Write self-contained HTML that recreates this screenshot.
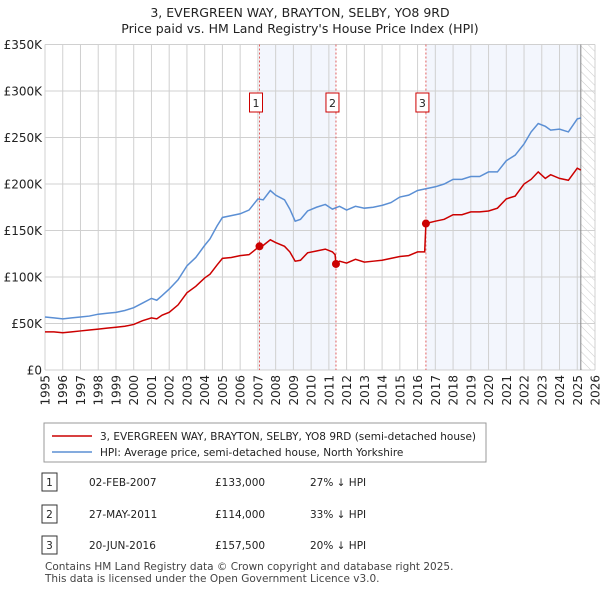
<!DOCTYPE html>
<html><head><meta charset="utf-8"><style>
body{margin:0;background:#fff;font-family:"DejaVu Sans","Liberation Sans",sans-serif;}
#wrap{position:relative;width:600px;height:590px;}
svg text{font-family:"DejaVu Sans","Liberation Sans",sans-serif;}
</style></head><body><div id="wrap">
<svg id="svg" width="600" height="590" xmlns="http://www.w3.org/2000/svg"></svg>
</div>
<script>
const years=[1995,1996,1997,1998,1999,2000,2001,2002,2003,2004,2005,2006,2007,2008,2009,2010,2011,2012,2013,2014,2015,2016,2017,2018,2019,2020,2021,2022,2023,2024,2025,2026];
const yTicks=[0,50,100,150,200,250,300,350];
const yTickLabels=["£0","£50K","£100K","£150K","£200K","£250K","£300K","£350K"];
const hpiT=[1995,1995.5,1996,1996.5,1997,1997.5,1998,1998.5,1999,1999.5,2000,2000.5,2001,2001.3,2001.6,2002,2002.5,2003,2003.5,2004,2004.3,2004.7,2005,2005.5,2006,2006.5,2007,2007.3,2007.7,2008,2008.5,2008.8,2009.1,2009.4,2009.8,2010.3,2010.8,2011.2,2011.6,2012,2012.5,2013,2013.5,2014,2014.5,2015,2015.5,2016,2016.5,2017,2017.5,2018,2018.5,2019,2019.5,2020,2020.5,2021,2021.5,2022,2022.4,2022.8,2023.2,2023.5,2024,2024.5,2025,2025.2];
const hpiV=[57,56,55,56,57,58,60,61,62,64,67,72,77,75,80,87,97,112,121,134,141,155,164,166,168,172,184,183,193,188,183,173,160,162,171,175,178,173,176,172,176,174,175,177,180,186,188,193,195,197,200,205,205,208,208,213,213,225,231,243,256,265,262,258,259,256,270,271];
const ppT=[1995,1995.5,1996,1996.5,1997,1997.5,1998,1998.5,1999,1999.5,2000,2000.5,2001,2001.3,2001.6,2002,2002.5,2003,2003.5,2004,2004.3,2004.7,2005,2005.5,2006,2006.5,2007.09,2007.3,2007.7,2008,2008.5,2008.8,2009.1,2009.4,2009.8,2010.3,2010.8,2011.2,2011.35,2011.4,2011.6,2012,2012.5,2013,2013.5,2014,2014.5,2015,2015.5,2016,2016.4,2016.47,2017,2017.5,2018,2018.5,2019,2019.5,2020,2020.5,2021,2021.5,2022,2022.4,2022.8,2023.2,2023.5,2024,2024.5,2025,2025.2];
const ppV=[41,41,40,41,42,43,44,45,46,47,49,53,56,55,59,62,70,83,90,99,103,113,120,121,123,124,133,134,140,137,133,127,117,118,126,128,130,127,124,114,117,115,119,116,117,118,120,122,123,127,127,157.5,160,162,167,167,170,170,171,174,184,187,200,205,213,206,210,206,204,217,215];
const saleDates=[2007.09,2011.4,2016.47];
const salePrices=[133,114,157.5];
const saleLabels=["1","2","3"];
const X0=45,X1=595,Y0=370,Y1=44.5;
const x=t=>X0+(t-1995)*(X1-X0)/31;
const y=v=>Y0-v*(Y0-Y1)/350;
const svg=document.getElementById('svg');
const NS="http://www.w3.org/2000/svg";
function mk(tag,at,parent){const e=document.createElementNS(NS,tag);for(const k in at)e.setAttribute(k,at[k]);(parent||svg).appendChild(e);return e;}
let t=mk('text',{x:300,y:17,'text-anchor':'middle','font-size':12.5,fill:'#222'});t.textContent="3, EVERGREEN WAY, BRAYTON, SELBY, YO8 9RD";


t=mk('text',{x:300,y:33,'text-anchor':'middle','font-size':12.5,fill:'#222'});t.textContent="Price paid vs. HM Land Registry's House Price Index (HPI)";


const defs=mk('defs',{});
const pat=mk('pattern',{id:'hatch',width:6,height:6,patternUnits:'userSpaceOnUse',patternTransform:'rotate(-45)'},defs);
mk('line',{x1:0,y1:0,x2:0,y2:6,stroke:'#ccc','stroke-width':1},pat);
let r=mk('rect',{x:x(saleDates[0]),y:Y1,width:x(saleDates[1])-x(saleDates[0]),height:Y0-Y1,fill:'#f3f6fd'});


r=mk('rect',{x:x(saleDates[2]),y:Y1,width:x(2025.2)-x(saleDates[2]),height:Y0-Y1,fill:'#f3f6fd'});


r=mk('rect',{x:x(2025.2),y:Y1,width:X1-x(2025.2),height:Y0-Y1,fill:'url(#hatch)'});


years.forEach(yr=>{const l=mk('line',{x1:x(yr),x2:x(yr),y1:Y1,y2:Y0,stroke:'#d0d0d0','stroke-width':1});


const tx=mk('text',{transform:`translate(${x(yr)+4.5},${Y0+5}) rotate(-90)`,'text-anchor':'end','font-size':12,fill:'#222'});tx.textContent=yr;

});
yTicks.forEach((v,i)=>{const l=mk('line',{x1:X0,x2:X1,y1:y(v),y2:y(v),stroke:'#d0d0d0','stroke-width':1});


const tx=mk('text',{x:X0-3,y:y(v)+4.5,'text-anchor':'end','font-size':12,fill:'#222'});tx.textContent=yTickLabels[i];

});
let l=mk('line',{x1:x(2025.2),x2:x(2025.2),y1:Y1,y2:Y0,stroke:'#888','stroke-width':1});


saleDates.forEach((d,i)=>{const ln=mk('line',{x1:x(d),x2:x(d),y1:Y1,y2:Y0,stroke:'#e06060','stroke-width':1,'stroke-dasharray':'2,2'});


const bx=mk('rect',{x:x(d)-10,y:93,width:13,height:19,fill:'#fff',stroke:'#c00','stroke-width':1});


const tx=mk('text',{x:x(d)-3.5,y:107,'text-anchor':'middle','font-size':11,fill:'#222'});tx.textContent=saleLabels[i];

});
let p=mk('polyline',{points:hpiT.map((tt,i)=>x(tt)+','+y(hpiV[i])).join(' '),fill:'none',stroke:'#5b8fd4','stroke-width':1.5});


p=mk('polyline',{points:ppT.map((tt,i)=>x(tt)+','+y(ppV[i])).join(' '),fill:'none',stroke:'#cc0000','stroke-width':1.5});


saleDates.forEach((d,i)=>{const c=mk('circle',{cx:x(d),cy:y(salePrices[i]),r:4,fill:'#cc0000'});

});
r=mk('rect',{x:44,y:423,width:442,height:39,fill:'#fff',stroke:'#999','stroke-width':1});


l=mk('line',{x1:52,x2:92,y1:436,y2:436,stroke:'#cc0000','stroke-width':1.5});


t=mk('text',{x:100,y:440,'font-size':10.5,fill:'#222'});t.textContent="3, EVERGREEN WAY, BRAYTON, SELBY, YO8 9RD (semi-detached house)";


l=mk('line',{x1:52,x2:92,y1:452,y2:452,stroke:'#5b8fd4','stroke-width':1.5});


t=mk('text',{x:100,y:456,'font-size':10.5,fill:'#222'});t.textContent="HPI: Average price, semi-detached house, North Yorkshire";


const rowsD=["02-FEB-2007","27-MAY-2011","20-JUN-2016"],rowsP=["£133,000","£114,000","£157,500"],rowsH=["27% ↓ HPI","33% ↓ HPI","20% ↓ HPI"];
[482,514,545].forEach((yy,i)=>{const b=mk('rect',{x:42,y:yy-9,width:15,height:18,fill:'#fff',stroke:'#333','stroke-width':1});


let tx=mk('text',{x:49.5,y:yy+4,'text-anchor':'middle','font-size':10.5,fill:'#222'});tx.textContent=saleLabels[i];


tx=mk('text',{x:89,y:yy+4,'font-size':10.5,fill:'#222'});tx.textContent=rowsD[i];


tx=mk('text',{x:215,y:yy+4,'font-size':10.5,fill:'#222'});tx.textContent=rowsP[i];


tx=mk('text',{x:310,y:yy+4,'font-size':10.5,fill:'#222'});tx.textContent=rowsH[i];

});
t=mk('text',{x:45,y:570,'font-size':10.5,fill:'#444'});t.textContent="Contains HM Land Registry data © Crown copyright and database right 2025.";


t=mk('text',{x:45,y:582,'font-size':10.5,fill:'#444'});t.textContent="This data is licensed under the Open Government Licence v3.0.";


</script></body></html>
